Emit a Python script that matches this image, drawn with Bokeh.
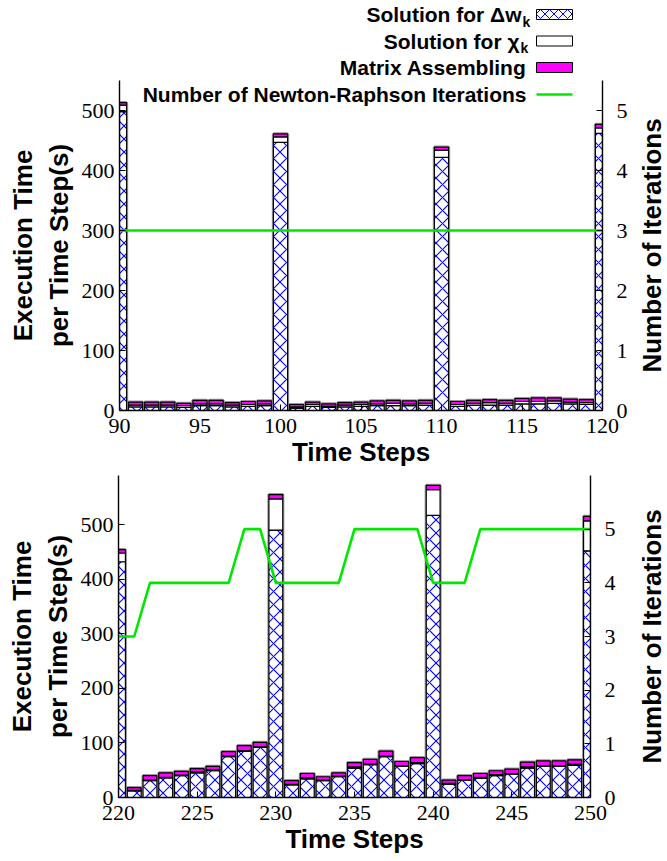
import math
from bokeh.plotting import figure
from bokeh.models import (Range1d, LinearAxis, FixedTicker, Label, BoxAnnotation,
                          ColumnDataSource)
from bokeh.layouts import row
from bokeh.embed import file_html
from bokeh.resources import INLINE

# ---------------- data ----------------
steps_top = list(range(90, 121))
dw_top = [498, 6, 6, 6, 5, 8, 8, 6, 7, 8,
          447, 4, 7, 5, 6, 7, 8, 8, 8, 9,
          422, 7, 9, 9, 9, 11, 11, 12, 11, 10,
          462]
chi_top = [11, 3, 3, 3, 3, 3, 3, 3, 3, 3,
           9, 2, 3, 2, 3, 3, 3, 4, 3, 3,
           12, 3, 3, 4, 3, 4, 4, 4, 3, 3,
           9]
ma_top = [4, 5, 5, 5, 4, 6, 6, 4, 5, 5,
          5, 4, 4, 4, 4, 4, 5, 5, 5, 5,
          5, 5, 5, 5, 5, 5, 6, 5, 5, 5,
          6]
iters_top = [3, 3, 3, 3, 3, 3, 3, 3, 3, 3,
             3, 3, 3, 3, 3, 3, 3, 3, 3, 3,
             3, 3, 3, 3, 3, 3, 3, 3, 3, 3,
             3]
xticks_top = [90, 95, 100, 105, 110, 115, 120]

steps_bot = list(range(220, 251))
dw_bot = [432, 12, 31, 36, 40, 45, 49, 75, 85, 92,
          490, 23, 34, 31, 38, 54, 60, 75, 57, 62,
          517, 24, 32, 35, 40, 43, 54, 57, 57, 59,
          452]
chi_bot = [16, 1, 1, 1, 1, 2, 2, 1, 1, 1,
           57, 1, 2, 1, 1, 2, 1, 1, 1, 2,
           47, 2, 1, 2, 2, 1, 2, 1, 1, 2,
           55]
ma_bot = [6, 5, 8, 8, 7, 6, 6, 8, 9, 8,
          8, 7, 8, 6, 6, 8, 9, 9, 8, 9,
          8, 6, 7, 7, 7, 8, 9, 9, 9, 8,
          8]
iters_bot = [3, 3, 4, 4, 4, 4, 4, 4, 5, 5,
             4, 4, 4, 4, 4, 5, 5, 5, 5, 5,
             4, 4, 4, 5, 5, 5, 5, 5, 5, 5,
             5]
xticks_bot = [220, 225, 230, 235, 240, 245, 250]

yticks_left = [0, 100, 200, 300, 400, 500]
yticks_right = [0, 1, 2, 3, 4, 5]

legend_labels = ["Solution for \u0394w", "Solution for \u03c7",
                 "Matrix Assembling", "Number of Newton-Raphson Iterations"]
y_title = "Execution Time\nper Time Step(s)"
x_title = "Time Steps"
y2_title = "Number of Iterations"

# ---------------- style ----------------
SANS = "Liberation Sans"
SERIF = "Liberation Serif"
BLUE = "#0000ff"
MAG = "#ff00ff"
GREEN = "#00e800"
BAR_W = 0.88
AX_FS = "26px"
LEG_FS = "21px"


def bare(width, fh, bt, bb):
    f = figure(frame_width=width, frame_height=fh,
               x_range=Range1d(0, 1), y_range=Range1d(0, 1),
               x_axis_type=None, y_axis_type=None,
               output_backend="svg", toolbar_location=None,
               min_border_left=0, min_border_right=0,
               min_border_top=bt, min_border_bottom=bb,
               outline_line_color=None)
    f.grid.visible = False
    return f


def panel(steps, dw, chi, ma, iters, xticks, ylmax, yrmax,
          fw, fh, bl, br, bt, bb):
    p = figure(frame_width=fw, frame_height=fh,
               x_range=Range1d(steps[0], steps[-1]),
               y_range=Range1d(0, ylmax),
               output_backend="svg", toolbar_location=None,
               min_border_left=bl, min_border_right=br,
               min_border_top=bt, min_border_bottom=bb)
    p.extra_y_ranges = {"iter": Range1d(0, yrmax)}
    p.outline_line_color = None
    p.grid.visible = False

    c2 = [a + b for a, b in zip(dw, chi)]
    c3 = [a + b for a, b in zip(c2, ma)]
    src = ColumnDataSource(dict(x=steps, dw=dw, c2=c2, c3=c3))

    p.vbar(x="x", width=BAR_W, bottom=0, top="c3", source=src,
           fill_color=None, line_color="#9a9a9a", line_width=3.2)
    p.vbar(x="x", width=BAR_W, bottom=0, top="dw", source=src,
           fill_color="white", hatch_pattern="x", hatch_color=BLUE,
           hatch_scale=13, hatch_weight=1.1,
           line_color="black", line_width=1.2)
    p.vbar(x="x", width=BAR_W, bottom="dw", top="c2", source=src,
           fill_color="white", line_color="black", line_width=1.2)
    p.vbar(x="x", width=BAR_W, bottom="c2", top="c3", source=src,
           fill_color=MAG, line_color="black", line_width=1.2)
    p.line(steps, iters, y_range_name="iter", line_color=GREEN,
           line_width=2.6)

    p.xaxis.ticker = FixedTicker(ticks=xticks)
    p.left[0].ticker = FixedTicker(ticks=yticks_left)
    rax = LinearAxis(y_range_name="iter",
                     ticker=FixedTicker(ticks=yticks_right))
    p.add_layout(rax, "right")
    for a in p.axis:
        a.axis_line_color = "black"
        a.axis_line_width = 1.4
        a.major_tick_in = 6
        a.major_tick_out = 0
        a.major_tick_line_width = 1
        a.minor_tick_line_color = None
        a.major_label_text_font = SERIF
        a.major_label_text_font_size = "22px"
        a.major_label_text_color = "black"
        a.axis_label_text_font = SANS
        a.axis_label_text_font_style = "bold"
        a.axis_label_text_font_size = AX_FS
        a.axis_label_text_color = "black"
    p.xaxis.major_label_standoff = 8
    p.xaxis.axis_label = x_title
    p.xaxis.axis_label_standoff = 1
    p.left[0].major_label_standoff = 5
    p.left[0].axis_label = y_title
    p.left[0].axis_label_standoff = 5
    rax.major_label_standoff = 14
    return p


def side_label(width, fh, bt, bb, xc):
    f = bare(width, fh, bt, bb)
    f.add_layout(Label(x=xc, y=fh / 2, x_units="screen", y_units="screen",
                       angle=math.pi / 2, text=y2_title,
                       text_align="center", text_baseline="middle",
                       text_color="black",
                       text_font=SANS, text_font_style="bold",
                       text_font_size=AX_FS))
    return f


top = panel(steps_top, dw_top, chi_top, ma_top, iters_top, xticks_top,
            550, 5.5, 483, 330, 119, 30, 0, 64)
bot = panel(steps_bot, dw_bot, chi_bot, ma_bot, iters_bot, xticks_bot,
            590, 6, 472, 322, 118, 30, 1, 62)
lab_top = side_label(35, 330, 0, 64, 19)
lab_bot = side_label(47, 322, 1, 62, 31)

# legend strip above the first panel
leg = bare(667, 80, 0, 0)


def leg_text(fig, txt, x, y, sub=None):
    fig.add_layout(Label(x=x, y=y, x_units="screen", y_units="screen",
                         text=txt, text_align="right",
                         text_baseline="middle", text_color="black",
                         text_font=SANS,
                         text_font_style="bold", text_font_size=LEG_FS))
    if sub:
        fig.add_layout(Label(x=x + 1, y=y - 7, x_units="screen",
                             y_units="screen", text=sub, text_align="left",
                             text_baseline="middle", text_color="black",
                             text_font=SANS,
                             text_font_style="bold", text_font_size="14px"))


def key_box(fig, l, r, yc, h, **kw):
    fig.add_layout(BoxAnnotation(left=l, right=r, bottom=yc - h / 2,
                                 top=yc + h / 2, left_units="screen",
                                 right_units="screen", top_units="screen",
                                 bottom_units="screen", fill_alpha=1, **kw))


leg_text(leg, legend_labels[0], 521, 66, "k")
leg_text(leg, legend_labels[1], 519, 39.5, "k")
leg_text(leg, legend_labels[2], 526, 13)
key_box(leg, 536, 572, 66, 10, fill_color="white", hatch_pattern="x",
        hatch_color=BLUE, hatch_scale=9, hatch_weight=1,
        line_color="black", line_alpha=1, line_width=1)
key_box(leg, 536, 572, 39.5, 10, fill_color="white",
        line_color="black", line_alpha=1, line_width=1)
key_box(leg, 536, 572, 13, 10, fill_color=MAG,
        line_color="black", line_alpha=1, line_width=1)
leg_text(top, legend_labels[3], 407, 316)
key_box(top, 417, 453, 316, 2.6, fill_color=GREEN, line_color=None)

roots = [leg, row(top, lab_top, spacing=0), row(bot, lab_bot, spacing=0)]
open("out.html", "w").write(file_html(roots, INLINE))
